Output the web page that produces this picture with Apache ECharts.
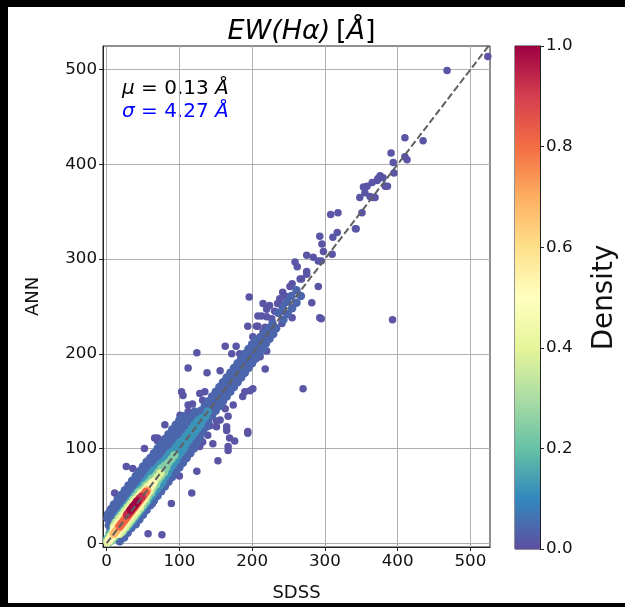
<!DOCTYPE html>
<html><head><meta charset="utf-8">
<script src="https://cdn.jsdelivr.net/npm/echarts@6/dist/echarts.min.js"></script>
<style>
html,body{margin:0;padding:0;background:#000;width:625px;height:607px;overflow:hidden;}
#paper{position:absolute;left:8px;top:7px;width:617px;height:596px;background:#fff;}
#chart{position:absolute;left:0;top:0;width:625px;height:607px;}
</style></head>
<body><div id="paper"></div><div id="chart"></div>
<script>
const xTicks = [0, 100, 200, 300, 400, 500];
const yTicks = [0, 100, 200, 300, 400, 500];
const densityTicks = [0, 0.2, 0.4, 0.6, 0.8, 1.0];
const meanText = '0.13';
const sigmaText = '4.27';

// Spectral_r colormap stops
const cmap = ['#5e4fa2','#3288bd','#66c2a5','#abdda4','#e6f598','#ffffbf','#fee08b','#fdae61','#f46d43','#d53e4f','#9e0142'];

// density level of each group of points (lowest drawn first)
const bandDensity = [0.01, 0.04, 0.12, 0.24, 0.38, 0.52, 0.68, 0.82, 0.93, 1.0];

const outlierPts = [
[524,514],[468,499],[410,428],[435,425],[391,412],[394,402],[413,405],[410,408],[395,391],[376,388],[373,385],[372,383],[383,377],[365,381],[358,377],[353,376],[355,370],[348,365],[366,365],[380,386],[386,377],[362,366],[369,365],[351,349],[308,347],[318,349],[343,332],[293,324],[275,304],[295,298],[268,279],[282,254],[291,271],[295,237],[393,236],[270,163],
[342,332],[317,328],[311,323],[296,316],[298,308],[310,305],[284,302],[291,298],[259,297],[262,292],[275,287],[275,284],[266,279],[255,274],[252,271],[242,265],[245,261],[238,258],[249,260],[235,253],[242,251],[224,251],[215,253],[231,245],[242,245],[255,238],[293,238],[213,240],[220,239],[227,237],[241,232],[208,229],[194,229],[218,228],[224,223],[215,223],[196,260],[201,218],
[220,247],[208,240],[206,229],[218,226],[211,218],[163,208],[178,208],[124,201],[197,205],[220,203],[172,200],[183,200],[211,197],[112,185],[138,180],[156,182],[180,189],[187,184],[218,184],[174,177],[201,163],[197,161],[163,163],[187,155],[105,156],[128,158],[132,151],[118,147],[112,146],[163,142],[174,146],[167,134],[156,130],[101,135],[80,125],[142,124],[151,123],[165,119],[169,111],[139,114],[194,116],[66,111],[70,111],[132,107],[121,108],[167,102],
[76,9],[63,42],[57,10],[27,81],[15,49],[11,53],[70,108],[89,42],[100,71],[117,53],[124,76],[128,102],[153,87],[146,105],[167,98],[176,108],[165,123],[190,160],[194,118],[112,139],[103,160],[135,160],[151,129],[52,100],[36,79]
];

const purplePts = [
[18,2],[14,6],[10,10],[6,15],[3,19],[1,26],
[24,6],[20,10],[15,15],[10,20],[6,25],[2,31],
[29,11],[25,15],[20,20],[15,25],[10,30],[6,36],
[34,16],[30,20],[25,25],[20,30],[15,35],[10,41],
[40,20],[35,25],[30,30],[25,35],[20,40],[15,46],
[45,25],[40,30],[35,35],[30,40],[25,45],[20,51],
[50,30],[45,35],[40,40],[35,45],[30,50],[25,56],
[55,35],[50,40],[45,45],[40,50],[35,55],[30,61],
[60,40],[55,45],[50,50],[45,55],[40,60],[35,66],
[65,45],[60,50],[55,55],[50,60],[45,65],[40,71],
[70,50],[65,55],[60,60],[55,65],[50,70],[45,76],
[75,55],[70,60],[65,65],[60,70],[55,75],[50,81],
[80,60],[75,65],[70,70],[65,75],[60,80],[55,86],
[85,65],[80,70],[75,75],[70,80],[65,85],[60,90],
[90,70],[85,75],[80,80],[75,85],[70,90],[65,95],
[95,75],[90,80],[85,85],[80,90],[75,95],[70,100],
[100,80],[95,85],[90,90],[85,95],[80,100],[75,105],
[105,85],[100,90],[95,95],[90,100],[85,105],[80,110],
[110,90],[105,95],[100,100],[95,105],[90,110],[85,115],
[115,95],[110,100],[105,105],[100,110],[95,115],[90,120],
[120,100],[115,105],[110,110],[105,115],[100,120],[95,125],
[124,106],[120,110],[115,115],[110,120],[105,125],[100,130],
[128,112],[125,115],[120,120],[115,125],[110,130],[106,134],
[132,118],[130,120],[125,125],[120,130],[116,134],
[137,123],[135,125],[130,130],[125,135],[121,139],
[140,130],[137,134],[134,137],[130,140],
[145,135],[142,139],[139,142],[135,145],
[150,140],[147,144],[144,147],[140,150],
[155,145],[152,149],[149,152],[145,155],
[160,150],[157,154],[154,157],[150,160],
[165,155],[162,159],[159,162],[155,165],
[170,160],[167,164],[164,167],[160,170],
[175,165],[172,169],[169,172],[165,175],
[180,170],[177,174],[174,177],[170,180],
[185,175],[182,179],[179,182],[175,185],
[190,180],[187,184],[184,187],[180,190],
[195,185],[192,189],[189,192],[185,195],
[200,190],[197,194],[194,197],[190,200],
[205,195],[202,199],[199,202],[195,205],
[210,200],[207,204],[204,207],[200,210],
[215,205],[212,209],[209,212],[205,215],
[219,211],[216,214],[213,217],
[224,216],[221,219],[218,222],
[229,221],[226,224],[223,227],
[233,227],[228,232],
[243,236],[236,243],[249,242],[242,249],[255,248],[248,255],[261,254],[254,261],[267,261],[261,267]
];

const bluePts = [
[4,2],[3,3],[1,5],[9,5],[7,7],[4,10],[13,9],[11,11],[8,14],[18,12],[15,15],[12,18],[22,16],[19,19],[16,22],
[29,17],[25,21],[21,25],[17,29],
[33,21],[29,25],[25,29],[21,33],
[37,25],[33,29],[29,33],[25,37],
[41,29],[37,33],[33,37],[29,41],
[45,33],[41,37],[37,41],[33,45],
[49,37],[45,41],[41,45],[37,49],
[53,41],[49,45],[45,49],[41,53],
[57,45],[53,49],[49,53],[45,57],
[61,49],[57,53],[53,57],[49,61],
[65,53],[61,57],[57,61],[53,65],
[69,57],[65,61],[61,65],[57,69],
[73,61],[69,65],[65,69],[61,73],
[77,65],[73,69],[69,73],[65,77],
[80,70],[77,73],[73,77],[70,80],
[84,74],[81,77],[77,81],[74,84],
[87,79],[83,83],[79,87],
[91,83],[87,87],[83,91],
[95,87],[91,91],[87,95],
[98,92],[95,95],[92,98],
[102,96],[99,99],[96,102],
[106,100],[103,103],[100,106],
[109,105],[105,109],
[113,109],[109,113],
[117,113],[113,117],[121,117],[117,121],[125,121],[121,125],[129,125],[125,129],[132,130],[130,132],[136,134],[139,139]
];

const tealPts = [
[3,1],[1,3],[7,3],[5,5],[3,7],[11,7],[9,9],[7,11],[15,11],[13,13],[11,15],
[22,12],[19,15],[15,19],[12,22],
[26,16],[23,19],[19,23],[16,26],
[30,20],[27,23],[23,27],[20,30],
[34,24],[31,27],[27,31],[24,34],
[38,28],[35,31],[31,35],[28,38],
[42,32],[39,35],[35,39],[32,42],
[46,36],[43,39],[39,43],[36,46],
[50,40],[47,43],[43,47],[40,50],
[54,44],[51,47],[47,51],[44,54],
[57,49],[55,51],[51,55],[49,57],
[61,53],[57,57],[53,61],
[64,58],[61,61],[58,64],
[68,62],[65,65],[62,68],
[71,67],[67,71],
[75,71],[71,75],
[79,75],[75,79],
[82,80],[80,82],
[85,85],[89,89],[93,93]
];

const greenPts = [
[1,1],[4,3],[3,4],[8,6],[6,8],[11,9],[9,11],
[18,10],[15,13],[13,15],[10,18],
[22,14],[19,17],[17,19],[14,22],
[26,18],[23,21],[21,23],[18,26],
[30,22],[27,25],[25,27],[22,30],
[34,26],[31,29],[29,31],[26,34],
[38,30],[35,33],[33,35],[30,38],
[42,34],[39,37],[37,39],[34,42],
[46,38],[43,41],[41,43],[38,46],
[49,43],[46,46],[43,49],
[53,47],[50,50],[47,53],
[56,52],[52,56],
[60,56],[56,60],
[63,61],[61,63],
[66,66],[70,70],[74,74]
];

const yellowPts = [
[3,3],[6,6],[9,9],
[14,10],[12,12],[10,14],
[18,14],[16,16],[14,18],
[22,18],[20,20],[18,22],
[26,22],[24,24],[22,26],
[30,26],[28,28],[26,30],
[34,30],[32,32],[30,34],
[38,34],[36,36],[34,38],
[42,38],[40,40],[38,42],
[46,42],[44,44],[42,46],
[50,46],[48,48],[46,50],
[53,51],[51,53],
[57,55],[55,57],
[60,60],[64,64]
];

const lightOrangePts = [
[10,10],[13,13],[17,16],[16,17],[20,19],[19,20],[23,22],[22,23],[26,25],[25,26],[29,28],[28,29],[32,31],[31,32],
[35,34],[34,35],[38,37],[37,38],[41,40],[40,41],[44,43],[43,44],[47,46],[46,47],[50,49],[49,50],[53,53],[56,56]
];

const orangePts = [
[18,18],[21,21],[24,24],[27,27],[30,30],[33,33],[36,36],[39,39],[42,42],[45,45],[48,48],[51,51],[54,54]
];

const redPts = [
[28,30],[30,32],[32,34],[35,37],[37,39],[40,42],[42,44],[45,47],[48,49]
];

const deepRedPts = [
[33,35],[36,38],[39,41],[42,44]
];

const refLine = [[0,0],[530,530]];

const groups = [outlierPts, purplePts, bluePts, tealPts, greenPts, yellowPts, lightOrangePts, orangePts, redPts, deepRedPts];
const scatterData = [];
groups.forEach((g, i) => g.forEach(p => scatterData.push([p[0], p[1], bandDensity[i]])));

const FONT = 'DejaVu Sans';
const chart = echarts.init(document.getElementById('chart'), null, {renderer: 'canvas'});

const gridLeft = 103, gridTop = 46, gridW = 387, gridH = 503;

chart.setOption({
  backgroundColor: 'transparent',
  animation: false,
  textStyle: {fontFamily: FONT},
  title: {
    text: '{i|EW(Hα)} {n|[}{i|Å}{n|]}',
    left: gridLeft + gridW / 2,
    textAlign: 'center',
    top: 13,
    textStyle: {
      fontWeight: 'normal',
      rich: {
        i: {fontFamily: FONT, fontStyle: 'italic', fontWeight: 'normal', fontSize: 27, color: '#000'},
        n: {fontFamily: FONT, fontWeight: 'normal', fontSize: 27, color: '#000'}
      }
    }
  },
  grid: [
    {left: gridLeft, top: gridTop, width: gridW, height: gridH, show: true, borderColor: '#222', borderWidth: 1, backgroundColor: 'transparent'},
    {left: 515, top: gridTop, width: 25, height: gridH, show: true, borderColor: '#222', borderWidth: 1, backgroundColor: 'transparent'}
  ],
  xAxis: [
    {
      gridIndex: 0, type: 'value', min: -5, max: 527, minInterval: 100, maxInterval: 100,
      name: 'SDSS', nameLocation: 'middle', nameGap: 37,
      nameTextStyle: {fontFamily: FONT, fontSize: 18, color: '#111'},
      axisLine: {show: true, onZero: false, lineStyle: {color: '#222', width: 1}},
      axisTick: {show: true, length: 4, inside: false, customValues: xTicks, lineStyle: {color: '#222'}},
      axisLabel: {customValues: xTicks, fontFamily: FONT, fontSize: 16.7, color: '#111', margin: 6},
      splitLine: {show: true, lineStyle: {color: '#b0b0b0', width: 1}}
    },
    {
      gridIndex: 1, type: 'category', data: ['cb'], show: false
    }
  ],
  yAxis: [
    {
      gridIndex: 0, type: 'value', min: -4, max: 525, minInterval: 100, maxInterval: 100,
      name: 'ANN', nameLocation: 'middle', nameGap: 61, nameRotate: 90,
      nameTextStyle: {fontFamily: FONT, fontSize: 18, color: '#111'},
      axisLine: {show: true, onZero: false, lineStyle: {color: '#222', width: 1}},
      axisTick: {show: true, length: 4, inside: false, customValues: yTicks, lineStyle: {color: '#222'}},
      axisLabel: {customValues: yTicks, fontFamily: FONT, fontSize: 16.7, color: '#111', margin: 6},
      splitLine: {show: true, lineStyle: {color: '#b0b0b0', width: 1}}
    },
    {
      gridIndex: 1, type: 'value', min: 0, max: 1, position: 'right',
      name: 'Density', nameLocation: 'middle', nameGap: 51, nameRotate: 90,
      nameTextStyle: {fontFamily: FONT, fontSize: 27.8, color: '#111'},
      axisLine: {show: true, lineStyle: {color: '#222', width: 1}},
      axisTick: {show: true, length: 4, inside: false, customValues: densityTicks, lineStyle: {color: '#222'}},
      axisLabel: {customValues: densityTicks, fontFamily: FONT, fontSize: 16.7, color: '#111', margin: 6,
        formatter: v => v.toFixed(1)},
      splitLine: {show: false}
    }
  ],
  visualMap: {
    show: false, type: 'continuous', min: 0, max: 1, dimension: 2, seriesIndex: 0,
    inRange: {color: cmap}
  },
  graphic: [
    {type: 'text', left: 122, top: 79, style: {
      text: '{i|μ} = ' + meanText + ' {i|Å}', fill: '#000', fontFamily: FONT, fontSize: 20,
      rich: {i: {fontStyle: 'italic', fontFamily: FONT, fontSize: 20, fill: '#000'}}
    }},
    {type: 'text', left: 122, top: 102, style: {
      text: '{i|σ} = ' + sigmaText + ' {i|Å}', fill: '#0000ff', fontFamily: FONT, fontSize: 20,
      rich: {i: {fontStyle: 'italic', fontFamily: FONT, fontSize: 20, fill: '#0000ff'}}
    }}
  ],
  series: [
    {
      type: 'scatter', xAxisIndex: 0, yAxisIndex: 0, data: scatterData,
      symbolSize: v => (v[2] > 0.02 ? 8.5 : 7.5), itemStyle: {opacity: 1}, silent: true, z: 2, large: false
    },
    {
      type: 'line', xAxisIndex: 0, yAxisIndex: 0, data: refLine, symbol: 'none', clip: true,
      lineStyle: {color: '#606060', width: 2, type: [7, 3]}, z: 5, silent: true
    },
    {
      type: 'bar', xAxisIndex: 1, yAxisIndex: 1, data: [1], barWidth: '100%', silent: true,
      itemStyle: {color: {type: 'linear', x: 0, y: 1, x2: 0, y2: 0,
        colorStops: cmap.map((c, i) => ({offset: i / (cmap.length - 1), color: c}))}}
    }
  ]
});
</script></body></html>
